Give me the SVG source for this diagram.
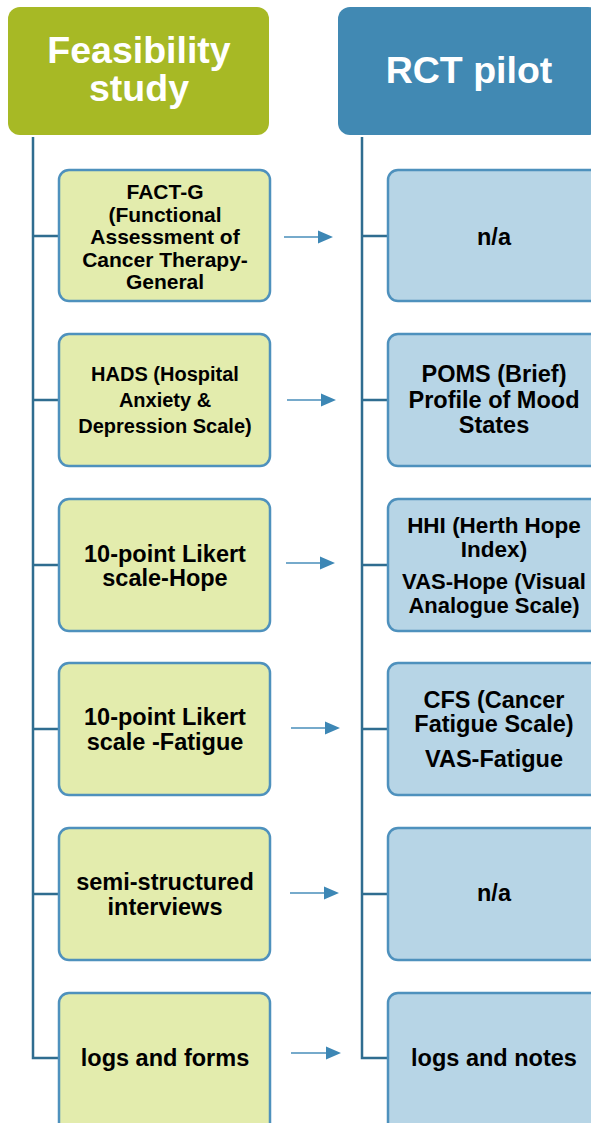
<svg xmlns="http://www.w3.org/2000/svg" width="591" height="1123" viewBox="0 0 591 1123">
<style>
text{font-family:"Liberation Sans",Arial,sans-serif;font-weight:bold;text-anchor:middle;fill:#000}
.hd{fill:#fff;font-size:37.5px}
.lb{fill:#e3ecad;stroke:#4e91bd;stroke-width:2.5}
.rb{fill:#b7d5e6;stroke:#4e91bd;stroke-width:2.5}
.tree{fill:none;stroke:#2f6d90;stroke-width:2.5}
.arr{stroke:#4a8fbb;stroke-width:1.5;fill:none}
.ah{fill:#3d87b5}
</style>
<rect width="591" height="1123" fill="#fff"/>
<g id="connectors">
<path class="tree" d="M33,137 V1058 H59 M33,236 H59 M33,400 H59 M33,565 H59 M33,729 H59 M33,894 H59"/>
<path class="tree" d="M362,137 V1058 H388 M362,236 H388 M362,400 H388 M362,565 H388 M362,729 H388 M362,894 H388"/>
<path class="arr" d="M284,237 H320 M287,400 H322 M286,563 H321 M291,728 H326 M290,893 H325 M291,1053 H327"/>
<path class="ah" d="M318,230.5 L333,237 L318,243.5 Z M321,393.5 L336,400 L321,406.5 Z M320,556.5 L335,563 L320,569.5 Z M325,721.5 L340,728 L325,734.5 Z M324,886.5 L339,893 L324,899.5 Z M326,1046.5 L341,1053 L326,1059.5 Z"/>
</g>
<g id="header-feasibility">
<rect x="8" y="7" width="261" height="128" rx="12" fill="#a7b925"/>
<text class="hd" x="139" y="63">Feasibility</text>
<text class="hd" x="139" y="101">study</text>
</g>
<g id="header-rct">
<rect x="338" y="7" width="262" height="128" rx="12" fill="#4189b3"/>
<text class="hd" x="469" y="83">RCT pilot</text>
</g>
<g id="l1">
<rect class="lb" x="59" y="170" width="211" height="131" rx="10"/>
<text font-size="21" x="165" y="199">FACT-G</text>
<text font-size="21" x="165" y="221.5">(Functional</text>
<text font-size="21" x="165" y="244">Assessment of</text>
<text font-size="21" x="165" y="266.5">Cancer Therapy-</text>
<text font-size="21" x="165" y="289">General</text>
</g>
<g id="l2">
<rect class="lb" x="59" y="334" width="211" height="132" rx="10"/>
<text font-size="20" x="165" y="381">HADS (Hospital</text>
<text font-size="20" x="165" y="407">Anxiety &amp;</text>
<text font-size="20" x="165" y="433">Depression Scale)</text>
</g>
<g id="l3">
<rect class="lb" x="59" y="499" width="211" height="132" rx="10"/>
<text font-size="23.5" x="165" y="562">10-point Likert</text>
<text font-size="23.5" x="165" y="586">scale-Hope</text>
</g>
<g id="l4">
<rect class="lb" x="59" y="663" width="211" height="132" rx="10"/>
<text font-size="23.5" x="165" y="725">10-point Likert</text>
<text font-size="23.5" x="165" y="750">scale -Fatigue</text>
</g>
<g id="l5">
<rect class="lb" x="59" y="828" width="211" height="132" rx="10"/>
<text font-size="23.5" x="165" y="890">semi-structured</text>
<text font-size="23.5" x="165" y="915">interviews</text>
</g>
<g id="l6">
<rect class="lb" x="59" y="993" width="211" height="145" rx="10"/>
<text font-size="23.5" x="165" y="1066">logs and forms</text>
</g>
<g id="r1">
<rect class="rb" x="388" y="170" width="212" height="131" rx="10"/>
<text font-size="23.5" x="494" y="245">n/a</text>
</g>
<g id="r2">
<rect class="rb" x="388" y="334" width="212" height="132" rx="10"/>
<text font-size="23.5" x="494" y="382">POMS (Brief)</text>
<text font-size="23.5" x="494" y="408">Profile of Mood</text>
<text font-size="23.5" x="494" y="433">States</text>
</g>
<g id="r3">
<rect class="rb" x="388" y="499" width="212" height="132" rx="10"/>
<text font-size="22.5" x="494" y="533">HHI (Herth Hope</text>
<text font-size="22.5" x="494" y="557">Index)</text>
<text font-size="22" x="494" y="589">VAS-Hope (Visual</text>
<text font-size="22" x="494" y="612.5">Analogue Scale)</text>
</g>
<g id="r4">
<rect class="rb" x="388" y="663" width="212" height="132" rx="10"/>
<text font-size="23.5" x="494" y="708">CFS (Cancer</text>
<text font-size="23.5" x="494" y="732">Fatigue Scale)</text>
<text font-size="23.5" x="494" y="767">VAS-Fatigue</text>
</g>
<g id="r5">
<rect class="rb" x="388" y="828" width="212" height="132" rx="10"/>
<text font-size="23.5" x="494" y="901">n/a</text>
</g>
<g id="r6">
<rect class="rb" x="388" y="993" width="212" height="145" rx="10"/>
<text font-size="23.5" x="494" y="1066">logs and notes</text>
</g>
</svg>
